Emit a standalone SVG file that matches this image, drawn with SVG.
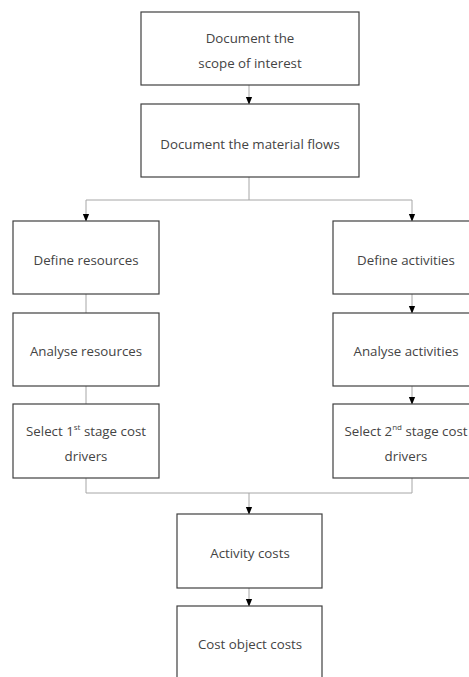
<svg xmlns="http://www.w3.org/2000/svg" width="469" height="677" viewBox="0 0 469 677">
<style>
.box{fill:#fff;stroke:#404040;stroke-width:1.2}
.t{font-family:"Open Sans",sans-serif;font-size:13.3px;fill:#444;text-anchor:middle}
.sup{font-size:8px}
.c{fill:none;stroke:#a6a6a6;stroke-width:1}
</style>
<defs>
<marker id="a" markerWidth="8" markerHeight="10" refX="9" refY="4" orient="auto" markerUnits="userSpaceOnUse" viewBox="0 0 10 8">
<path d="M0,0 L10,4 L0,8 Z" fill="#000"/>
</marker>
</defs>
<g id="connectors">
<path class="c" d="M249,85 V104" marker-end="url(#a)"/>
<path class="c" d="M249,177 V200 M86,200 H412"/>
<path class="c" d="M86,200 V221" marker-end="url(#a)"/>
<path class="c" d="M412,200 V221" marker-end="url(#a)"/>
<path class="c" d="M86,294 V313 M86,386 V404"/>
<path class="c" d="M412,294 V313" marker-end="url(#a)"/>
<path class="c" d="M412,386 V404" marker-end="url(#a)"/>
<path class="c" d="M86,478 V493 H412 V478"/>
<path class="c" d="M249,493 V514" marker-end="url(#a)"/>
<path class="c" d="M249,588 V606" marker-end="url(#a)"/>
</g>
<g id="n1"><rect class="box" x="141" y="12" width="218" height="73"/><text class="t" x="250" y="43">Document the</text><text class="t" x="250" y="68">scope of interest</text></g>
<g id="n2"><rect class="box" x="141" y="104" width="218" height="73"/><text class="t" x="250" y="149">Document the material flows</text></g>
<g id="n3"><rect class="box" x="13" y="221" width="146" height="73"/><text class="t" x="86" y="265">Define resources</text></g>
<g id="n4"><rect class="box" x="13" y="313" width="146" height="73"/><text class="t" x="86" y="356">Analyse resources</text></g>
<g id="n5"><rect class="box" x="13" y="404" width="146" height="74"/><text class="t" x="86" y="436">Select 1<tspan class="sup" dy="-6">st</tspan><tspan dy="6"> stage cost</tspan></text><text class="t" x="86" y="461">drivers</text></g>
<g id="n6"><rect class="box" x="333" y="221" width="160" height="73"/><text class="t" x="406" y="265">Define activities</text></g>
<g id="n7"><rect class="box" x="333" y="313" width="160" height="73"/><text class="t" x="406" y="356">Analyse activities</text></g>
<g id="n8"><rect class="box" x="333" y="404" width="160" height="74"/><text class="t" x="406" y="436">Select 2<tspan class="sup" dy="-6">nd</tspan><tspan dy="6"> stage cost</tspan></text><text class="t" x="406" y="461">drivers</text></g>
<g id="n9"><rect class="box" x="177" y="514" width="145" height="74"/><text class="t" x="250" y="558">Activity costs</text></g>
<g id="n10"><rect class="box" x="177" y="606" width="145" height="80"/><text class="t" x="250" y="649">Cost object costs</text></g>
</svg>
